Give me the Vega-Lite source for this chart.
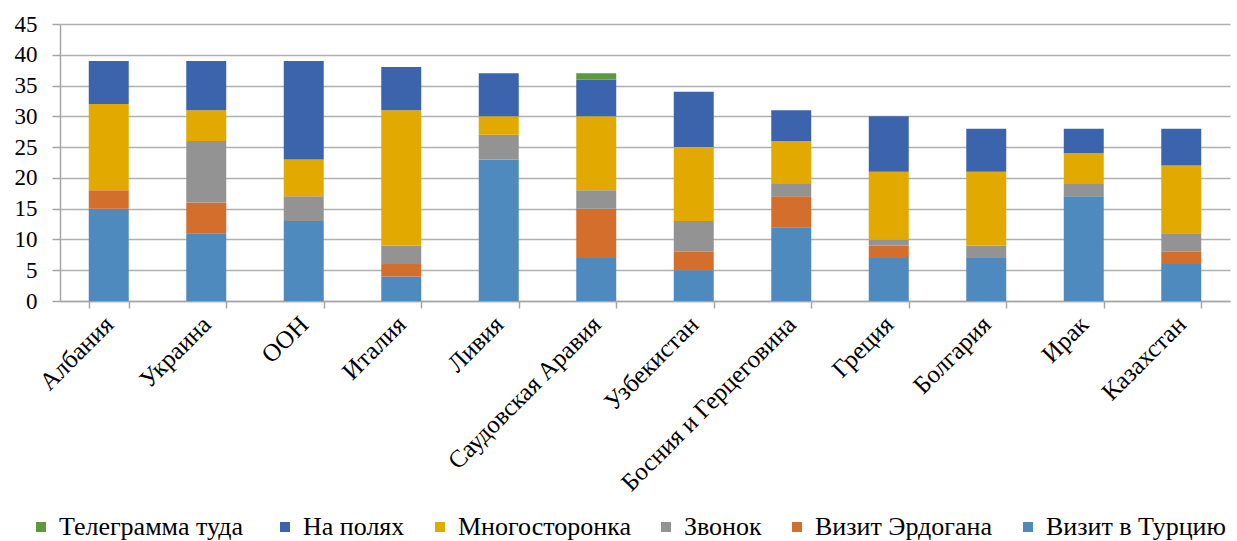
{
  "$schema": "https://vega.github.io/schema/vega-lite/v6.json",
  "width": 1170,
  "height": 277,
  "autosize": "none",
  "padding": {"left": 60, "top": 24, "right": 7, "bottom": 240},
  "background": "white",
  "config": {
    "font": "Liberation Serif",
    "axis": {"labelFont": "Liberation Serif"},
    "legend": {"labelFont": "Liberation Serif"},
    "view": {"stroke": null}
  },
  "data": {
    "values": [
      {"country": "Албания", "series": "Визит в Турцию", "ord": 1, "value": 15},
      {"country": "Албания", "series": "Визит Эрдогана", "ord": 2, "value": 3},
      {"country": "Албания", "series": "Многосторонка", "ord": 4, "value": 14},
      {"country": "Албания", "series": "На полях", "ord": 5, "value": 7},
      {"country": "Украина", "series": "Визит в Турцию", "ord": 1, "value": 11},
      {"country": "Украина", "series": "Визит Эрдогана", "ord": 2, "value": 5},
      {"country": "Украина", "series": "Звонок", "ord": 3, "value": 10},
      {"country": "Украина", "series": "Многосторонка", "ord": 4, "value": 5},
      {"country": "Украина", "series": "На полях", "ord": 5, "value": 8},
      {"country": "ООН", "series": "Визит в Турцию", "ord": 1, "value": 13},
      {"country": "ООН", "series": "Звонок", "ord": 3, "value": 4},
      {"country": "ООН", "series": "Многосторонка", "ord": 4, "value": 6},
      {"country": "ООН", "series": "На полях", "ord": 5, "value": 16},
      {"country": "Италия", "series": "Визит в Турцию", "ord": 1, "value": 4},
      {"country": "Италия", "series": "Визит Эрдогана", "ord": 2, "value": 2},
      {"country": "Италия", "series": "Звонок", "ord": 3, "value": 3},
      {"country": "Италия", "series": "Многосторонка", "ord": 4, "value": 22},
      {"country": "Италия", "series": "На полях", "ord": 5, "value": 7},
      {"country": "Ливия", "series": "Визит в Турцию", "ord": 1, "value": 23},
      {"country": "Ливия", "series": "Звонок", "ord": 3, "value": 4},
      {"country": "Ливия", "series": "Многосторонка", "ord": 4, "value": 3},
      {"country": "Ливия", "series": "На полях", "ord": 5, "value": 7},
      {"country": "Саудовская Аравия", "series": "Визит в Турцию", "ord": 1, "value": 7},
      {"country": "Саудовская Аравия", "series": "Визит Эрдогана", "ord": 2, "value": 8},
      {"country": "Саудовская Аравия", "series": "Звонок", "ord": 3, "value": 3},
      {"country": "Саудовская Аравия", "series": "Многосторонка", "ord": 4, "value": 12},
      {"country": "Саудовская Аравия", "series": "На полях", "ord": 5, "value": 6},
      {"country": "Саудовская Аравия", "series": "Телеграмма  туда", "ord": 6, "value": 1},
      {"country": "Узбекистан", "series": "Визит в Турцию", "ord": 1, "value": 5},
      {"country": "Узбекистан", "series": "Визит Эрдогана", "ord": 2, "value": 3},
      {"country": "Узбекистан", "series": "Звонок", "ord": 3, "value": 5},
      {"country": "Узбекистан", "series": "Многосторонка", "ord": 4, "value": 12},
      {"country": "Узбекистан", "series": "На полях", "ord": 5, "value": 9},
      {"country": "Босния и Герцеговина", "series": "Визит в Турцию", "ord": 1, "value": 12},
      {"country": "Босния и Герцеговина", "series": "Визит Эрдогана", "ord": 2, "value": 5},
      {"country": "Босния и Герцеговина", "series": "Звонок", "ord": 3, "value": 2},
      {"country": "Босния и Герцеговина", "series": "Многосторонка", "ord": 4, "value": 7},
      {"country": "Босния и Герцеговина", "series": "На полях", "ord": 5, "value": 5},
      {"country": "Греция", "series": "Визит в Турцию", "ord": 1, "value": 7},
      {"country": "Греция", "series": "Визит Эрдогана", "ord": 2, "value": 2},
      {"country": "Греция", "series": "Звонок", "ord": 3, "value": 1},
      {"country": "Греция", "series": "Многосторонка", "ord": 4, "value": 11},
      {"country": "Греция", "series": "На полях", "ord": 5, "value": 9},
      {"country": "Болгария", "series": "Визит в Турцию", "ord": 1, "value": 7},
      {"country": "Болгария", "series": "Звонок", "ord": 3, "value": 2},
      {"country": "Болгария", "series": "Многосторонка", "ord": 4, "value": 12},
      {"country": "Болгария", "series": "На полях", "ord": 5, "value": 7},
      {"country": "Ирак", "series": "Визит в Турцию", "ord": 1, "value": 17},
      {"country": "Ирак", "series": "Звонок", "ord": 3, "value": 2},
      {"country": "Ирак", "series": "Многосторонка", "ord": 4, "value": 5},
      {"country": "Ирак", "series": "На полях", "ord": 5, "value": 4},
      {"country": "Казахстан", "series": "Визит в Турцию", "ord": 1, "value": 6},
      {"country": "Казахстан", "series": "Визит Эрдогана", "ord": 2, "value": 2},
      {"country": "Казахстан", "series": "Звонок", "ord": 3, "value": 3},
      {"country": "Казахстан", "series": "Многосторонка", "ord": 4, "value": 11},
      {"country": "Казахстан", "series": "На полях", "ord": 5, "value": 6}
    ]
  },
  "mark": {"type": "bar"},
  "encoding": {
    "x": {
      "field": "country",
      "type": "nominal",
      "sort": ["Албания", "Украина", "ООН", "Италия", "Ливия", "Саудовская Аравия", "Узбекистан", "Босния и Герцеговина", "Греция", "Болгария", "Ирак", "Казахстан"],
      "scale": {"paddingInner": 0.59, "paddingOuter": 0.295},
      "axis": {
        "title": null,
        "labelAngle": -45,
        "labelAlign": "right",
        "labelBaseline": "middle",
        "labelFont": "Liberation Serif",
        "labelFontSize": 25,
        "labelColor": "#000",
        "labelPadding": 12,
        "labelLimit": 400,
        "tickBand": "extent",
        "tickSize": 7,
        "tickColor": "#a6a6a6",
        "tickWidth": 1.5,
        "domainColor": "#a6a6a6",
        "domainWidth": 1.5,
        "grid": false
      }
    },
    "y": {
      "field": "value",
      "type": "quantitative",
      "stack": "zero",
      "scale": {"domain": [0, 45], "nice": false},
      "axis": {
        "title": null,
        "values": [0, 5, 10, 15, 20, 25, 30, 35, 40, 45],
        "labelFont": "Liberation Serif",
        "labelFontSize": 23,
        "labelColor": "#000",
        "labelPadding": 15,
        "tickSize": 8,
        "tickColor": "#a6a6a6",
        "tickWidth": 1.5,
        "domainColor": "#a6a6a6",
        "domainWidth": 1.5,
        "grid": true,
        "gridColor": "#b0b0b0",
        "gridWidth": 1.5
      }
    },
    "order": {"field": "ord", "type": "quantitative", "sort": "ascending"},
    "color": {
      "field": "series",
      "type": "nominal",
      "scale": {
        "domain": ["Телеграмма  туда", "На полях", "Многосторонка", "Звонок", "Визит Эрдогана", "Визит в Турцию"],
        "range": ["#5e9a3c", "#3b64ad", "#e2a900", "#939393", "#d36e2c", "#4f8abe"]
      },
      "legend": {
        "title": null,
        "orient": "none",
        "legendX": -32,
        "legendY": 490,
        "direction": "horizontal",
        "symbolType": "square",
        "symbolSize": 100,
        "symbolStrokeWidth": 0,
        "labelFont": "Liberation Serif",
        "labelFontSize": 26,
        "labelColor": "#000",
        "labelOffset": 5,
        "columnPadding": 22,
        "labelLimit": 400
      }
    }
  }
}
